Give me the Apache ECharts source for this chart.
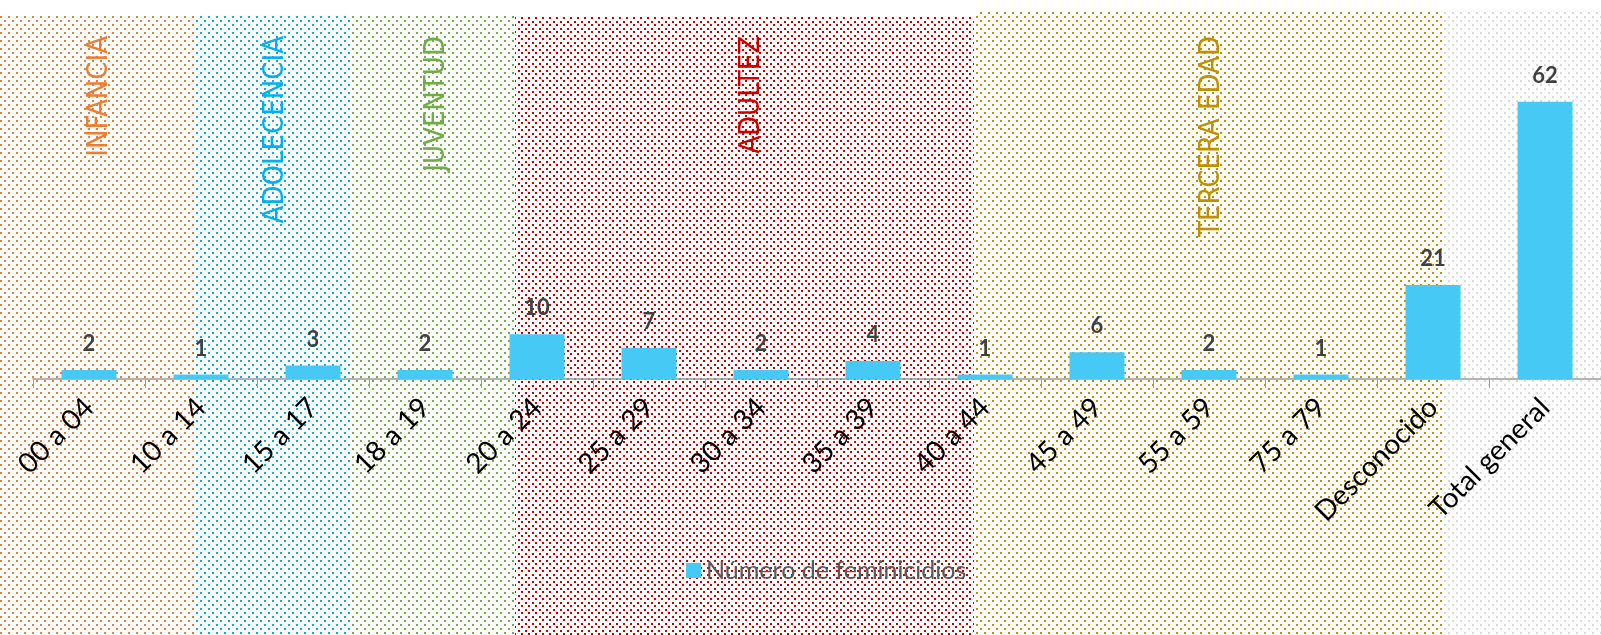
<!DOCTYPE html>
<html>
<head>
<meta charset="utf-8">
<script src="https://cdn.jsdelivr.net/npm/echarts@6/dist/echarts.min.js"></script>
<style>
  html, body { margin: 0; padding: 0; background: #fff; }
  #chart { width: 1601px; height: 635px; }
</style>
</head>
<body>
<div id="chart"></div>
<script>
// datos
const categories = ['00 a 04', '10 a 14', '15 a 17', '18 a 19', '20 a 24', '25 a 29', '30 a 34',
  '35 a 39', '40 a 44', '45 a 49', '55 a 59', '75 a 79', 'Desconocido', 'Total general'];
const feminicidios = [2, 1, 3, 2, 10, 7, 2, 4, 1, 6, 2, 1, 21, 62];
const seriesName = 'Número de feminicidios';
const groupNames = ['INFANCIA', 'ADOLECENCIA', 'JUVENTUD', 'ADULTEZ', 'TERCERA EDAD'];

// fondos punteados (posiciones en px de la imagen)
const bands = [
  { x0: 0, x1: 193, top: 14, color: '#ED7D31', step: 8, labelX: 99 },
  { x0: 193, x1: 351, top: 14, color: '#00B0F0', step: 8, labelX: 275 },
  { x0: 351, x1: 515, top: 14, color: '#70AD47', step: 8, labelX: 436 },
  { x0: 515, x1: 974, top: 16, color: '#CC0000', step: 7, labelX: 751 },
  { x0: 974, x1: 1442, top: 11, color: '#BF9000', step: 8, labelX: 1211 },
  { x0: 1442, x1: 1601, top: 11, color: '#D9D9D9', step: 8 }
];

function dotPattern(color, step) {
  const c = document.createElement('canvas');
  c.width = step; c.height = step;
  const ctx = c.getContext('2d');
  ctx.fillStyle = color;
  ctx.fillRect(0, 0, 2, 2);
  ctx.fillRect(Math.floor(step / 2), Math.floor(step / 2), 2, 2);
  return c;
}

const graphics = [];
bands.forEach(function (b, i) {
  graphics.push({
    type: 'rect', z: 0, silent: true,
    shape: { x: b.x0, y: b.top, width: b.x1 - b.x0, height: 635 - b.top },
    style: { fill: { image: dotPattern(b.color, b.step), repeat: 'repeat' } }
  });
  if (groupNames[i]) {
    graphics.push({
      type: 'text', z: 1, silent: true,
      x: b.labelX, y: 36, rotation: Math.PI / 2,
      style: {
        text: groupNames[i], fill: b.color, align: 'right', verticalAlign: 'middle',
        font: "29px 'Liberation Sans Narrow', 'DejaVu Sans Condensed', sans-serif"
      }
    });
  }
});

const myChart = echarts.init(document.getElementById('chart'));
const option = {
  animation: false,
  graphic: { elements: graphics },
  grid: { left: 33, top: 66, width: 1570, height: 313 },
  legend: {
    left: 681, top: 553,
    itemWidth: 15, itemHeight: 15, icon: 'rect',
    textStyle: { color: '#595959', fontSize: 25, fontFamily: 'Lato' },
    data: [seriesName]
  },
  xAxis: {
    type: 'category',
    data: categories,
    axisLine: { lineStyle: { color: '#9C9C9C', width: 1.5 } },
    axisTick: { show: true, length: 9, lineStyle: { color: '#9C9C9C' } },
    axisLabel: {
      interval: 0, rotate: 45, margin: 24,
      color: '#000', fontSize: 28, fontFamily: 'Lato'
    }
  },
  yAxis: { type: 'value', min: 0, max: 70, show: false, splitLine: { show: false } },
  series: [
    {
      name: seriesName,
      type: 'bar',
      data: feminicidios,
      barWidth: 55,
      itemStyle: { color: '#47C9F5' },
      label: {
        show: true, position: 'top', distance: 15,
        color: '#404040', fontSize: 22, fontWeight: 'bold', fontFamily: 'Lato'
      }
    }
  ]
};
myChart.setOption(option);
</script>
</body>
</html>
